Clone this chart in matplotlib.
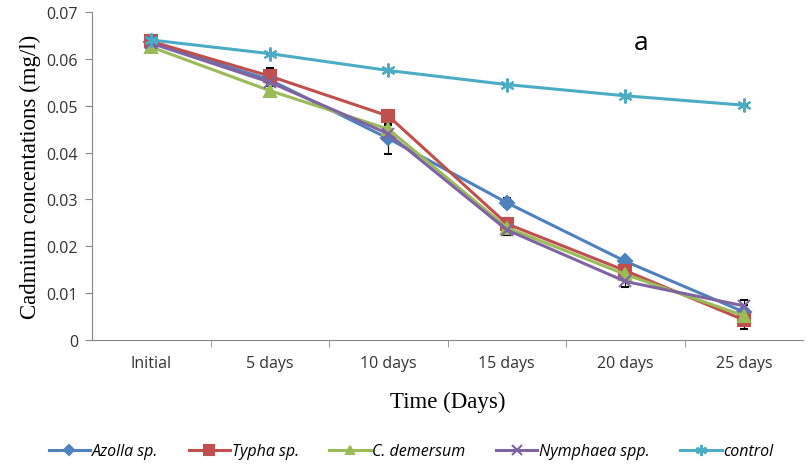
import matplotlib
matplotlib.use("Agg")
import matplotlib.pyplot as plt
import numpy as np

# Cadmium concentration over time, per plant species
days = ["Initial", "5 days", "10 days", "15 days", "20 days", "25 days"]
azolla = [0.0635, 0.0555, 0.0430, 0.0293, 0.0168, 0.0060]
typha = [0.0637, 0.0563, 0.0478, 0.0248, 0.0148, 0.0043]
demersum = [0.0625, 0.0532, 0.0450, 0.0240, 0.0140, 0.0052]
nymphaea = [0.0633, 0.0550, 0.0440, 0.0235, 0.0125, 0.0073]
control = [0.0640, 0.0611, 0.0575, 0.0545, 0.0521, 0.0501]

azolla_err = [0.0005, 0.0008, 0.0033, 0.0010, 0.0008, 0.0015]
typha_err = [0.0005, 0.0018, 0.0008, 0.0012, 0.0010, 0.0020]
demersum_err = [0.0005, 0.0012, 0.0008, 0.0015, 0.0008, 0.0010]
nymphaea_err = [0.0005, 0.0008, 0.0008, 0.0010, 0.0012, 0.0012]
control_err = [0.0, 0.0, 0.0, 0.0, 0.0, 0.0]

series = [
    ("Azolla sp.", azolla, azolla_err, "#4F81BD", "D", 7),
    ("Typha sp.", typha, typha_err, "#C0504D", "s", 9),
    ("C. demersum", demersum, demersum_err, "#9BBB59", "^", 8),
    ("Nymphaea spp.", nymphaea, nymphaea_err, "#8064A2", "x", 9),
    ("control", control, control_err, "#4BACC6", (6, 2, 0), 10),
]

fig = plt.figure(figsize=(8.09, 4.77), dpi=100)
ax = fig.add_axes([0.1137, 0.285, 0.879, 0.688])

x = np.arange(len(days))
handles = []
for name, vals, err, color, marker, ms in series:
    c = ax.errorbar(x, vals, yerr=err, color=color, ecolor="black", elinewidth=0.8,
                    capsize=3, capthick=0.8, lw=2.2, marker=marker, ms=ms,
                    mew=1.5, label=name, zorder=3)
    handles.append(c.lines[0])

ax.set_xlim(-0.5, len(days) - 0.5)
ax.set_ylim(0, 0.07)
ax.set_yticks(np.arange(0, 0.0701, 0.01))
ax.set_yticklabels(["0", "0.01", "0.02", "0.03", "0.04", "0.05", "0.06", "0.07"])
ax.set_xticks(x)
ax.set_xticklabels(days)
ax.set_xticks(np.arange(0.5, len(days) - 0.5, 1), minor=True)
ax.tick_params(axis="x", which="major", length=0, pad=11)
ax.tick_params(axis="x", which="minor", length=5, color="#888888")
ax.tick_params(axis="y", length=5, color="#888888", pad=5)
ax.tick_params(labelsize=11.5, labelcolor="#333333")
for lab in ax.get_xticklabels() + ax.get_yticklabels():
    lab.set_family("Open Sans")

ax.spines["top"].set_visible(False)
ax.spines["right"].set_visible(False)
ax.spines["left"].set_color("#888888")
ax.spines["bottom"].set_color("#888888")

ax.set_xlabel("Time (Days)", family="Liberation Serif", fontsize=16.5, labelpad=14)
ax.set_ylabel("Cadmium concentations (mg/l)", family="Liberation Serif", fontsize=16.5, labelpad=4)

ax.text(0.762, 0.887, "a", transform=ax.transAxes, fontsize=19, family="Open Sans")

fig.legend(handles, [s[0] for s in series], loc="center", bbox_to_anchor=(0.508, 0.052),
           ncol=5, frameon=False, markerscale=0.8,
           prop={"family": "Open Sans", "style": "italic", "size": 11.5},
           handlelength=2.6, columnspacing=1.9, handletextpad=0.1)

fig.savefig("out.png", dpi=100)
